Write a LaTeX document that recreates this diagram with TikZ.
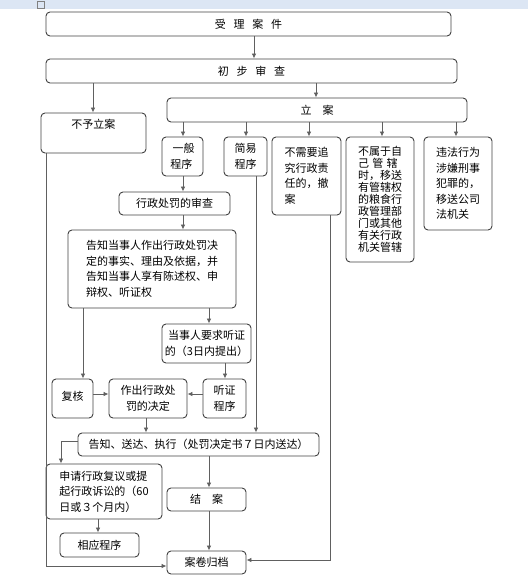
\documentclass[tikz,border=0pt]{standalone}
\usepackage{fontspec}
\newfontfamily\cjk{Noto Sans CJK SC}
\usetikzlibrary{arrows.meta}
\definecolor{ruler}{HTML}{DCE6F4}
\definecolor{edge}{HTML}{404040}
\definecolor{conn}{HTML}{606060}
\tikzset{
  box/.style={draw=edge, line width=0.9pt, rounded corners=4pt, inner sep=0pt,
    font=\cjk\fontsize{11}{15.5}\selectfont, align=left},
  line/.style={draw=conn, line width=0.8pt},
  arr/.style={line, -{Latex[length=5pt,width=4.5pt]}, shorten >=0pt},
}
\newcommand\bx[6][]{\node[box,minimum width={#4-#2},minimum height={#5-#3},#1] (#6) at ({(#2+#4)/2},{-(#3+#5)/2})}
\begin{document}
\begin{tikzpicture}[x=1pt,y=1pt]
\useasboundingbox (0,0) rectangle (528,-579);
\fill[ruler] (0,0) rectangle (528,-9);
\draw[gray, line width=0.5pt] (37,-1) rectangle (44,-8);

\bx{46}{12}{451}{36}{shouli} {受\hspace{0.7em}理\hspace{0.7em}案\hspace{0.7em}件};
\bx{46}{59}{457}{83}{chubu} {初\hspace{0.7em}步\hspace{0.7em}审\hspace{0.7em}查};
\bx{167}{98}{467}{122}{lian} {立\hspace{1em}案};
\bx{41}{113}{146}{153}{buyu} {\parbox[c][40pt][t]{100pt}{\centering\vspace{6pt}不予立案}};
\bx{162}{137}{203}{176}{yiban} {\ 一般\\程序};
\bx{224}{137}{267}{176}{jianyi} {简易\\程序};
\bx{272}{137}{341}{215}{chean} {不需要追\\究行政责\\任的，撤\\案};
\bx[font=\cjk\fontsize{11}{12}\selectfont]{346}{137}{414}{262}{bushu} {不属于自\\己\hspace{0.3em}管\hspace{0.3em}辖\\时，移送\\有管辖权\\的粮食行\\政管理部\\门或其他\\有关行政\\机关管辖};
\bx{424}{137}{492}{230}{weifa} {违法行为\\涉嫌刑事\\犯罪的，\\移送公司\\法机关};
\bx{119}{192}{230}{215}{shencha} {行政处罚的审查};
\bx{68}{230}{236}{308}{gaozhi} {告知当事人作出行政处罚决\\定的事实、理由及依据，并\\告知当事人享有陈述权、申\\辩权、听证权};
\bx[align=center]{162}{324}{251}{363}{yaoqiu} {当事人要求听证\\的（3日内提出）};
\bx{52}{379}{93}{418}{fuhe} {\raisebox{5pt}{复核}};
\bx[align=center]{109}{379}{187}{418}{zuochu} {作出行政处\\罚的决定};
\bx{203}{379}{246}{418}{tingzheng} {听证\\程序};
\bx{78}{433}{319}{456}{songda} {告知、送达、执行（处罚决定书７日内送达）};
\bx{46}{464}{162}{519}{shenqing} {申请行政复议或提\\起行政诉讼的（60\\日或３个月内）};
\bx{167}{488}{246}{511}{jiean} {结\hspace{1em}案};
\bx{60}{533}{139}{557}{xiangying} {相应程序};
\bx{167}{551}{246}{574}{guidang} {案卷归档};

\draw[arr] (shouli.south -| 254,0) -- (chubu.north -| 254,0);
\draw[arr] (chubu.south -| 93,0) -- (buyu.north -| 93,0);
\draw[arr] (chubu.south -| 316,0) -- (lian.north -| 316,0);
\draw[arr] (lian.south -| 183,0) -- (yiban.north -| 183,0);
\draw[arr] (lian.south -| 246,0) -- (jianyi.north -| 246,0);
\draw[arr] (lian.south -| 309,0) -- (chean.north -| 309,0);
\draw[arr] (lian.south -| 382,0) -- (bushu.north -| 382,0);
\draw[arr] (lian.south -| 456,0) -- (weifa.north -| 456,0);
\draw[arr] (yiban.south -| 183,0) -- (shencha.north -| 183,0);
\draw[arr] (shencha.south -| 183,0) -- (gaozhi.north -| 183,0);
\draw[arr] (gaozhi.south -| 209,0) -- (yaoqiu.north -| 209,0);
\draw[arr] (gaozhi.south -| 83,0) -- (fuhe.north -| 83,0);
\draw[arr] (yaoqiu.south -| 225,0) -- (tingzheng.north -| 225,0);
\draw[arr] (fuhe.east |- 0,-394) -- (zuochu.west |- 0,-394);
\draw[arr] (tingzheng.west |- 0,-394) -- (zuochu.east |- 0,-394);
\draw[arr] (zuochu.south -| 146,0) -- (songda.north -| 146,0);
\draw[arr] (jianyi.south -| 256,0) -- (songda.north -| 256,0);
\draw[arr] (songda.west |- 0,-441) -| (shenqing.north -| 61,0);
\draw[arr] (shenqing.south -| 98,0) -- (xiangying.north -| 98,0);
\draw[arr] (songda.south -| 209,0) -- (jiean.north -| 209,0);
\draw[arr] (jiean.south -| 209,0) -- (guidang.north -| 209,0);
\draw[arr] (buyu.south -| 46,0) |- (guidang.west |- 0,-566);
\draw[arr] (chean.south -| 330,0) |- (guidang.east |- 0,-560);
\end{tikzpicture}
\end{document}
